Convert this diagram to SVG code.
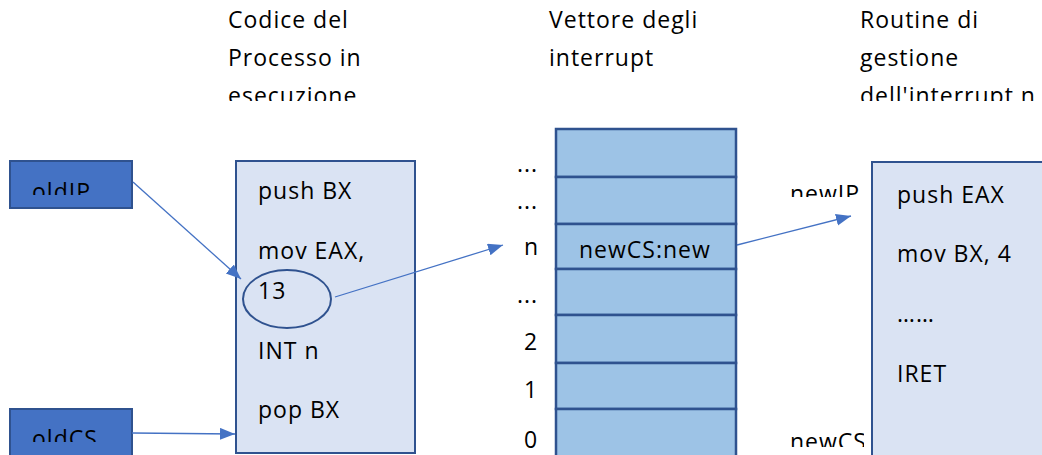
<svg xmlns="http://www.w3.org/2000/svg" width="1042" height="455" viewBox="0 0 1042 455">
<style>
  text { font-family: "Open Sans", "Liberation Sans", sans-serif; font-size: 23px; fill: #000; letter-spacing: 1px; }
  .box { fill: #DAE3F3; stroke: #2F528F; stroke-width: 2; }
  .reg { fill: #4472C4; stroke: #2F528F; stroke-width: 2; }
  .cell { fill: #9DC3E6; stroke: #2F528F; stroke-width: 2.5; }
  .conn { stroke: #4472C4; stroke-width: 1.3; fill: none; marker-end: url(#ah); }
  .ell { fill: none; stroke: #2F528F; stroke-width: 2; }
</style>
<defs>
  <marker id="ah" markerUnits="userSpaceOnUse" markerWidth="16" markerHeight="14" refX="15" refY="6" orient="auto">
    <path d="M0,0 L15,6 L0,12 z" fill="#4472C4"/>
  </marker>
  <clipPath id="clipTop"><rect x="0" y="0" width="1042" height="101"/></clipPath>
  <clipPath id="clipOldIP"><rect x="0" y="150" width="140" height="45"/></clipPath>
  <clipPath id="clipOldCS"><rect x="0" y="400" width="140" height="42"/></clipPath>
  <clipPath id="clipNewIP"><rect x="760" y="150" width="104" height="47"/></clipPath>
  <clipPath id="clipNewCS"><rect x="760" y="400" width="104" height="47"/></clipPath>
</defs>

<g id="titles" clip-path="url(#clipTop)">
  <text x="228" y="28">Codice del</text>
  <text x="228" y="66">Processo in</text>
  <text x="228" y="104">esecuzione</text>
  <text x="549" y="28">Vettore degli</text>
  <text x="549" y="66">interrupt</text>
  <text x="860" y="28">Routine di</text>
  <text x="860" y="66">gestione</text>
  <text x="860" y="104">dell'interrupt n</text>
</g>

<g id="oldIP">
  <rect class="reg" x="10" y="161" width="122" height="47"/>
  <text x="32" y="200" clip-path="url(#clipOldIP)">oldIP</text>
</g>

<g id="oldCS">
  <rect class="reg" x="10" y="409" width="122" height="50"/>
  <text x="32" y="447" clip-path="url(#clipOldCS)">oldCS</text>
</g>

<g id="codice">
  <rect class="box" x="236" y="161" width="179" height="292"/>
  <text x="258" y="199">push BX</text>
  <text x="258" y="259">mov EAX,</text>
  <text x="258" y="299">13</text>
  <text x="258" y="359">INT n</text>
  <text x="258" y="418">pop BX</text>
  <ellipse class="ell" cx="287" cy="299" rx="44" ry="29"/>
</g>

<g id="vettore">
  <rect class="cell" x="556" y="129" width="180" height="48"/>
  <rect class="cell" x="556" y="177" width="180" height="47"/>
  <rect class="cell" x="556" y="224" width="180" height="45"/>
  <rect class="cell" x="556" y="269" width="180" height="46"/>
  <rect class="cell" x="556" y="315" width="180" height="48"/>
  <rect class="cell" x="556" y="363" width="180" height="46"/>
  <rect class="cell" x="556" y="409" width="180" height="50"/>
  <text x="579" y="258">newCS:new</text>
  <text x="517" y="172">...</text>
  <text x="517" y="209">...</text>
  <text x="524" y="255">n</text>
  <text x="517" y="303">...</text>
  <text x="524" y="350">2</text>
  <text x="524" y="398">1</text>
  <text x="524" y="448">0</text>
</g>

<g id="routine">
  <rect class="box" x="872" y="162" width="180" height="300"/>
  <text x="897" y="203">push EAX</text>
  <text x="897" y="262">mov BX, 4</text>
  <text x="897" y="322">……</text>
  <text x="897" y="382">IRET</text>
</g>

<g id="newIP">
  <text x="790" y="202" clip-path="url(#clipNewIP)">newIP</text>
</g>
<g id="newCS">
  <text x="790" y="450" clip-path="url(#clipNewCS)">newCS</text>
</g>

<g id="connectors">
  <line class="conn" x1="133" y1="182" x2="241" y2="279"/>
  <line class="conn" x1="132" y1="433" x2="235" y2="434"/>
  <line class="conn" x1="335" y1="297" x2="503" y2="245"/>
  <line class="conn" x1="737" y1="245" x2="851" y2="216"/>
</g>
</svg>
